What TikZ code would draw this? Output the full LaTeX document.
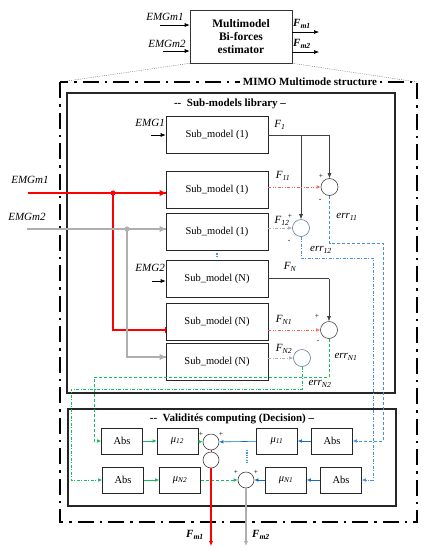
\documentclass[tikz,border=0pt]{standalone}
\usepackage{fontspec}
\setmainfont{Liberation Serif}
\usetikzlibrary{arrows.meta}
\definecolor{sigred}{RGB}{255,0,0}
\definecolor{sigpink}{RGB}{255,90,90}
\definecolor{siggray}{RGB}{175,175,175}
\definecolor{sigblue}{RGB}{20,110,200}
\definecolor{errblue}{RGB}{70,145,225}
\definecolor{errgreen}{RGB}{20,190,90}
\definecolor{rimblue}{RGB}{100,120,160}
\newcommand{\lab}[2]{\textit{#1}\textsubscript{\textit{#2}}}
\tikzstyle{estimator}=[draw=black!80, semithick, minimum width=102pt, minimum height=53pt, align=center, font=\fontsize{11.5}{13}\bfseries]
\tikzstyle{submodel}=[draw=black!85, semithick, minimum width=102pt, minimum height=37pt, font=\fontsize{10.5}{12}\selectfont]
\tikzstyle{unit}=[draw=black!85, semithick, minimum width=41pt, minimum height=26pt, font=\fontsize{10.5}{12}\selectfont]
\tikzstyle{sum}=[circle, draw=black!75, semithick, minimum size=17pt, inner sep=0pt]
\tikzstyle{small sum}=[sum, minimum size=16pt]
\tikzstyle{signal}=[semithick, -{Latex[length=5pt,width=4pt]}]
\tikzstyle{label}=[inner sep=1pt, font=\fontsize{11}{13}\itshape]
\tikzstyle{sign}=[inner sep=0pt, font=\fontsize{7.5}{8}\selectfont]
\tikzstyle{title}=[inner sep=1pt, font=\fontsize{11}{13}\bfseries]
\tikzstyle{frame}=[line width=2.4pt, dash pattern=on 16pt off 6pt on 2.5pt off 6pt]
\tikzstyle{panel}=[draw=black!85, line width=1.2pt]
\tikzstyle{zoom line}=[black!60, thin, dash pattern=on 1pt off 1.2pt]
\tikzstyle{red line}=[sigred, line width=1.4pt]
\tikzstyle{gray line}=[siggray, line width=1.4pt]
\tikzstyle{red model}=[sigpink, semithick, dash pattern=on 3pt off 1.5pt on 1pt off 1.5pt on 1pt off 1.5pt, -{Latex[length=4pt,width=3.5pt,open]}]
\tikzstyle{gray model}=[siggray, semithick, dash pattern=on 3pt off 1.5pt on 1pt off 1.5pt, -{Latex[length=4pt,width=3.5pt]}]
\tikzstyle{err dashed}=[errblue, semithick, densely dashed, -{Latex[length=4pt,width=3.5pt]}]
\tikzstyle{err dashdot}=[errblue, semithick, dash pattern=on 3pt off 1.5pt on 1pt off 1.5pt, -{Latex[length=4pt,width=3.5pt]}]
\tikzstyle{errg dashed}=[errgreen, semithick, densely dashed, -{Latex[length=4pt,width=3.5pt]}]
\tikzstyle{errg dashdot}=[errgreen, semithick, dash pattern=on 3pt off 1.5pt on 1pt off 1.5pt, -{Latex[length=4pt,width=3.5pt]}]
\tikzstyle{green signal}=[errgreen, semithick, -{Latex[length=4pt,width=3.5pt]}]
\tikzstyle{blue signal}=[sigblue, semithick, -{Latex[length=4pt,width=3.5pt]}]
\tikzstyle{ellipsis}=[errblue, line width=1.2pt, dash pattern=on 1.2pt off 1.2pt]

\begin{document}
\begin{tikzpicture}[x=1pt, y=-1pt]
  \useasboundingbox (0,0) rectangle (431,550);

  \node[estimator] (est) at (241,36.5) {Multimodel\\Bi-forces\\estimator};
  \coordinate (inA) at (160,25);
  \coordinate (inB) at (163,51);
  \coordinate (outA) at (319,32);
  \coordinate (outB) at (319,52);
  \draw[signal] (inA) -- (inA -| est.west);
  \draw[signal] (inB) -- (inB -| est.west);
  \draw[signal] (outA -| est.east) -- (outA);
  \draw[signal] (outB -| est.east) -- (outB);
  \node[label] (inA lbl) at (165,17) {EMGm1};
  \node[label] (inB lbl) at (167,44) {EMGm2};
  \node[label, font=\fontsize{11}{13}\bfseries\itshape] (outA lbl) at (302,24) {\lab{F}{m1}};
  \node[label, font=\fontsize{11}{13}\bfseries\itshape] (outB lbl) at (302,44) {\lab{F}{m2}};

  \coordinate (mimoNW) at (60,82);
  \coordinate (mimoSE) at (417,522);
  \draw[zoom line] (est.south west) -- (mimoNW);
  \draw[zoom line] (est.south east) -- (mimoNW -| mimoSE);
  \draw[frame] (mimoNW) rectangle (mimoSE);
  \node[title, fill=white, inner xsep=3pt] (mimo) at (310,82) {MIMO Multimode structure};

  \draw[panel] (67,93) rectangle (395,393);
  \node[title] (lib) at (230,104) {-{}-\ \ Sub-models library –};

  \node[submodel] (smA) at (217,135) {Sub\_model (1)};
  \node[submodel] (smB) at (217,190) {Sub\_model (1)};
  \node[submodel] (smC) at (217,231.5) {Sub\_model (1)};
  \node[submodel] (smN) at (217,278.5) {Sub\_model (N)};
  \node[submodel] (smNB) at (217,321.5) {Sub\_model (N)};
  \node[submodel] (smNC) at (217,361.5) {Sub\_model (N)};

  \node[sum] (cA) at (329.5,187) {};
  \node[sum, draw=rimblue] (cB) at (301,228) {};
  \node[sum] (cN) at (329,330) {};
  \node[sum, draw=rimblue] (cNB) at (302,358) {};

  \coordinate (emgA) at (151,135);
  \coordinate (emgN) at (152,281);
  \draw[signal] (emgA) -- (emgA -| smA.west);
  \draw[signal] (emgN) -- (emgN -| smN.west);
  \node[label, anchor=east] (emgA lbl) at (166,123) {EMG1};
  \node[label, anchor=east] (emgN lbl) at (166,268) {EMG2};

  \coordinate (redIn) at (28,193);
  \coordinate (redJ) at (113,193);
  \coordinate (redB) at (113,330);
  \draw[red line] (redIn) -- (redIn -| smB.west);
  \draw[red line] (redJ) -- (redB) -- (redB -| smNB.west);
  \fill[sigred] (redJ) circle (2.6pt);
  \fill[sigred] (redIn -| smB.west) -- ++(-6,-3) -- ++(0,6) -- cycle;
  \fill[sigred] (redB -| smNB.west) ++(-1,-3) rectangle ++(1,6);
  \node[label] (redIn lbl) at (30,180) {EMGm1};

  \coordinate (grayIn) at (27,229);
  \coordinate (grayJ) at (127,229);
  \coordinate (grayB) at (127,357);
  \draw[gray line] (grayIn) -- (grayIn -| smC.west);
  \draw[gray line] (grayJ) -- (grayB) -- (grayB -| smNC.west);
  \fill[siggray] (grayJ) circle (2.6pt);
  \fill[siggray] (grayIn -| smC.west) -- ++(-6,-3) -- ++(0,6) -- cycle;
  \fill[siggray] (grayB -| smNC.west) -- ++(-6,-3) -- ++(0,6) -- cycle;
  \node[label] (grayIn lbl) at (27,217) {EMGm2};

  \draw[semithick, black!75] (smA.east) -- (smA.east -| cA);
  \draw[signal, black!75] (smA.east -| cA) -- (cA.north);
  \draw[signal, black!75] (smA.east -| cB) -- (cB.north);
  \draw[red model] (cA -| smB.east) -- (cA.west);
  \draw[gray model] (cB -| smC.east) -- (cB.west);
  \draw[semithick, black!75] (smN.east) -- (smN.east -| cN);
  \draw[signal, black!75] (smN.east -| cN) -- (cN.north);
  \draw[red model] (cN -| smNB.east) -- (cN.west);
  \draw[gray model] (cNB -| smNC.east) -- (cNB.west);
  \draw[ellipsis] ([yshift=-3pt]smC.south) -- ([yshift=3pt]smN.north);

  \node[label] (fA lbl) at (280,125) {\lab{F}{1}};
  \node[label] (fB lbl) at (283,176) {\lab{F}{11}};
  \node[label] (fC lbl) at (282,221) {\lab{F}{12}};
  \node[label] (fN lbl) at (290,267) {\lab{F}{N}};
  \node[label] (fNB lbl) at (284,320) {\lab{F}{N1}};
  \node[label] (fNC lbl) at (284,349) {\lab{F}{N2}};
  \node[sign] (cA plus) at (321,176) {+};
  \node[sign] (cA minus) at (320,200) {-};
  \node[sign] (cB plus) at (290,216) {+};
  \node[sign] (cB minus) at (289,241) {-};
  \node[sign] (cN plus) at (317,316) {+};
  \node[sign] (cN minus) at (318,341) {-};

  \draw[panel] (68,409) rectangle (396,506);
  \node[title] (valid) at (232,419) {-{}-\ \ Validités computing (Decision) –};

  \node[unit] (absA) at (122,441) {Abs};
  \node[unit] (muAB) at (177.5,441) {\lab{μ}{12}};
  \node[small sum] (sA) at (211,442) {};
  \node[small sum] (sAB) at (211,460) {};
  \node[unit] (muAA) at (277,441) {\lab{μ}{11}};
  \node[unit] (absB) at (332,441) {Abs};
  \node[unit] (absNA) at (123,480) {Abs};
  \node[unit] (muNB) at (180,480) {\lab{μ}{N2}};
  \node[small sum] (sN) at (246,480) {};
  \node[unit] (muNA) at (286,480) {\lab{μ}{N1}};
  \node[unit] (absNB) at (341,480) {Abs};

  \draw[green signal] (absA) -- (muAB);
  \draw[green signal] (muAB) -- (sA);
  \draw[blue signal] (muAA) -- (sA);
  \draw[blue signal] (absB) -- (muAA);
  \draw[green signal] (absNA) -- (muNB);
  \draw[errg dashed] (muNB) -- (sN);
  \draw[blue signal] (muNA) -- (sN);
  \draw[blue signal] (absNB) -- (muNA);
  \draw[ellipsis] (247,450) -- (247,463);
  \node[sign] (sA plusA) at (201,434) {+};
  \node[sign] (sA plusB) at (221,434) {+};
  \node[sign] (sN plusA) at (236,472) {+};
  \node[sign] (sN plusB) at (256,472) {+};

  \coordinate (eA) at (383,243);
  \coordinate (eB) at (373,258);
  \coordinate (eN) at (94,377);
  \coordinate (eNB) at (71,389);
  \draw[err dashed] (cA.south) |- (eA) |- (absB.east);
  \draw[err dashdot] (cB.south) |- (eB) |- (absNB.east);
  \draw[errg dashed] (cN.south) |- (eN) |- (absA.west);
  \draw[errg dashdot] (cNB.south) |- (eNB) |- (absNA.west);
  \node[label] (eA lbl) at (347,217) {\lab{err}{11}};
  \node[label] (eB lbl) at (321,250) {\lab{err}{12}};
  \node[label] (eN lbl) at (346,357) {\lab{err}{N1}};
  \node[label] (eNB lbl) at (320,384) {\lab{err}{N2}};

  \coordinate (fmA) at (211,546);
  \coordinate (fmB) at (246,546);
  \draw[sigred, semithick] (sA.south) -- (sAB.north);
  \draw[red line, -{Latex[length=5pt,width=4.5pt]}] (sAB.south) -- (fmA);
  \draw[gray line, -{Latex[length=5pt,width=4.5pt]}] (sN.south) -- (fmB);
  \node[label, font=\fontsize{11}{13}\bfseries\itshape] (fmA lbl) at (195,535) {\lab{F}{m1}};
  \node[label, font=\fontsize{11}{13}\bfseries\itshape] (fmB lbl) at (261,535) {\lab{F}{m2}};
\end{tikzpicture}
\end{document}
